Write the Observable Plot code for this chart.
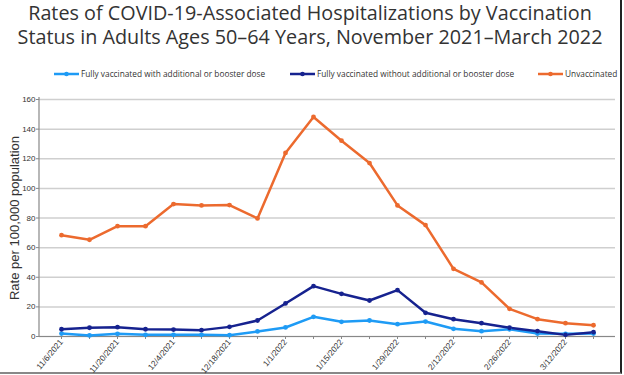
<!DOCTYPE html>
<html>
<head>
<meta charset="utf-8">
<script src="https://cdn.jsdelivr.net/npm/d3@7"></script>
<script src="https://cdn.jsdelivr.net/npm/@observablehq/plot@0.6"></script>
<style>
  html, body { margin: 0; padding: 0; background: #fff; }
  #wrap { position: relative; width: 620px; height: 372px; border-right: 2px solid #222; border-bottom: 2px solid #888; background:#fff; }
  #title { position: absolute; left: 0; top: 1px; width: 620px; text-align: center; font-family: "Open Sans", sans-serif; font-size: 19.8px; line-height: 24px; color: #333; }
  .leg { position: absolute; top: 68px; font-family: "Open Sans", sans-serif; font-size: 8.3px; color: #333; display: flex; align-items: center; white-space: nowrap; }
  .leg svg { margin-right: 2px; }
  #chart { position: absolute; left: 0; top: 88px; }
</style>
</head>
<body>
<div id="wrap">
  <div id="title">Rates of COVID-19-Associated Hospitalizations by Vaccination<br>Status in Adults Ages 50–64 Years, November 2021–March 2022</div>
  <div id="legend"></div>
  <div id="chart"></div>
</div>
<script>
const weeks = ["11/6/2021","11/13/2021","11/20/2021","11/27/2021","12/4/2021","12/11/2021","12/18/2021","12/25/2021","1/1/2022","1/8/2022","1/15/2022","1/22/2022","1/29/2022","2/5/2022","2/12/2022","2/19/2022","2/26/2022","3/5/2022","3/12/2022","3/19/2022"];
const boosted = [2.0, 0.7, 1.8, 1.1, 1.1, 1.1, 0.9, 3.4, 6.1, 13.3, 9.9, 10.8, 8.3, 10.1, 5.2, 3.6, 4.9, 2.0, 1.8, 2.0];
const noBooster = [4.9, 5.9, 6.3, 4.9, 4.7, 4.3, 6.5, 10.8, 22.3, 34.0, 28.8, 24.3, 31.3, 16.0, 11.7, 9.0, 5.9, 3.6, 1.1, 2.9];
const unvaccinated = [68.4, 65.3, 74.5, 74.5, 89.4, 88.5, 88.7, 79.7, 123.9, 148.2, 132.2, 117.1, 88.5, 75.2, 45.7, 36.5, 18.7, 11.7, 9.0, 7.6];
const seriesNames = ["Fully vaccinated with additional or booster dose", "Fully vaccinated without additional or booster dose", "Unvaccinated"];
const seriesColors = ["#1e9bf5", "#16228f", "#ec6a2e"];
const yTicks = [0, 20, 40, 60, 80, 100, 120, 140, 160];

const seriesValues = [boosted, noBooster, unvaccinated];
const data = [];
seriesNames.forEach((s, k) => weeks.forEach((w, i) => data.push({week: w, series: s, value: seriesValues[k][i]})));

// legend
const legPos = [54, 290, 538];
const legend = document.getElementById("legend");
seriesNames.forEach((s, k) => {
  const d = document.createElement("div");
  d.className = "leg";
  d.style.left = legPos[k] + "px";
  d.innerHTML = `<svg width="25" height="10"><line x1="0" x2="25" y1="5" y2="5" stroke="${seriesColors[k]}" stroke-width="2.5"/><circle cx="12.5" cy="5" r="2.3" fill="${seriesColors[k]}"/></svg><span>${s}</span>`;
  legend.appendChild(d);
});

const chart = Plot.plot({
  width: 620,
  height: 284,
  marginLeft: 39,
  marginRight: 5,
  marginTop: 11,
  marginBottom: 36,
  style: {fontFamily: "'Liberation Sans', Arial, sans-serif", fontSize: "8px", color: "#333", overflow: "visible"},
  x: {type: "point", domain: weeks, padding: 0.5, label: null},
  y: {domain: [0, 160], label: null},
  color: {domain: seriesNames, range: seriesColors},
  marks: [
    Plot.gridY(yTicks, {stroke: "#cfcfcf", strokeOpacity: 1, strokeWidth: 1.5}),
    Plot.axisY(yTicks, {tickSize: 3, tickPadding: 1, stroke: "#888", label: "Rate per 100,000 population", labelAnchor: "center", labelArrow: "none", labelOffset: 30}),
    Plot.axisX(weeks.filter((d, i) => i % 2 === 1), {tickSize: 3, stroke: "#888", tickFormat: () => "", label: null}),
    Plot.axisX(weeks.filter((d, i) => i % 2 === 0), {tickSize: 3, tickRotate: -50, tickPadding: 1, stroke: "#888", fontSize: 8.3, label: null}),
    Plot.ruleY([0], {stroke: "#888", strokeWidth: 1.2}),
    Plot.line(data, {x: "week", y: "value", z: "series", stroke: "series", strokeWidth: 2.5}),
    Plot.dot(data, {x: "week", y: "value", fill: "series", r: 2.4})
  ]
});
document.getElementById("chart").appendChild(chart);

// y axis line
d3.select(chart).append("line")
  .attr("x1", 39).attr("x2", 39).attr("y1", 9).attr("y2", 248)
  .attr("stroke", "#888").attr("stroke-width", 1.2);

// enlarge y label
d3.select(chart).selectAll("g[aria-label='y-axis label'] text")
  .style("font-size", "13px").style("font-family", "'Liberation Sans', Arial, sans-serif").attr("fill", "#333");
</script>
</body>
</html>
